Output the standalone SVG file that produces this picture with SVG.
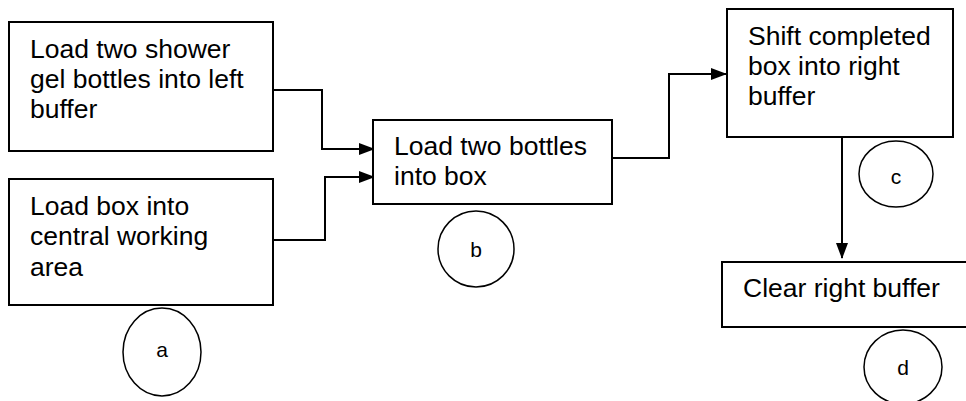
<svg xmlns="http://www.w3.org/2000/svg" width="966" height="401" viewBox="0 0 966 401">
<defs>
<style>
.box{fill:#fff;stroke:#000;stroke-width:2}
.circ{fill:none;stroke:#000;stroke-width:1.5}
.t{font-family:"Liberation Sans",Arial,sans-serif;font-size:26.5px;fill:#000}
.l{font-family:"Liberation Sans",Arial,sans-serif;font-size:21px;fill:#000;text-anchor:middle}
.c{fill:none;stroke:#000;stroke-width:2}
</style>
<marker id="ah" markerWidth="16" markerHeight="12" refX="15" refY="6" orient="auto" markerUnits="userSpaceOnUse">
<path d="M0,0 L16,6 L0,12 Z" fill="#000"/>
</marker>
</defs>
<rect width="966" height="401" fill="#fff"/>
<g id="connectors">
<path class="c" d="M269,90 H322 V149 H374" marker-end="url(#ah)"/>
<path class="c" d="M274,240 H325 V177 H374" marker-end="url(#ah)"/>
<path class="c" d="M612,158 H669 V74 H726" marker-end="url(#ah)"/>
<path class="c" d="M842,133 V258" marker-end="url(#ah)"/>
</g>
<g id="node1">
<rect class="box" x="9" y="22" width="264" height="129"/>
<text class="t" x="30" y="58">Load two shower</text>
<text class="t" x="30" y="88">gel bottles into left</text>
<text class="t" x="30" y="118">buffer</text>
</g>
<g id="node2">
<rect class="box" x="9" y="179" width="264" height="126"/>
<text class="t" x="30" y="215">Load box into</text>
<text class="t" x="30" y="245">central working</text>
<text class="t" x="30" y="276">area</text>
</g>
<g id="node3">
<rect class="box" x="373" y="120" width="239" height="84"/>
<text class="t" x="394" y="155">Load two bottles</text>
<text class="t" x="394" y="185">into box</text>
</g>
<g id="node4">
<rect class="box" x="727" y="9" width="226" height="128"/>
<text class="t" x="748" y="45">Shift completed</text>
<text class="t" x="748" y="75">box into right</text>
<text class="t" x="748" y="105">buffer</text>
</g>
<g id="node5">
<rect class="box" x="722" y="262" width="250" height="65"/>
<text class="t" x="743" y="297">Clear right buffer</text>
</g>
<g id="label-a">
<ellipse class="circ" cx="162" cy="352" rx="39" ry="44"/>
<text class="l" x="162" y="357">a</text>
</g>
<g id="label-b">
<ellipse class="circ" cx="476" cy="249" rx="38" ry="38"/>
<text class="l" x="476" y="257">b</text>
</g>
<g id="label-c">
<ellipse class="circ" cx="896" cy="174" rx="37" ry="33"/>
<text class="l" x="896" y="184">c</text>
</g>
<g id="label-d">
<ellipse class="circ" cx="903" cy="367" rx="39" ry="37"/>
<text class="l" x="903" y="375">d</text>
</g>
</svg>
